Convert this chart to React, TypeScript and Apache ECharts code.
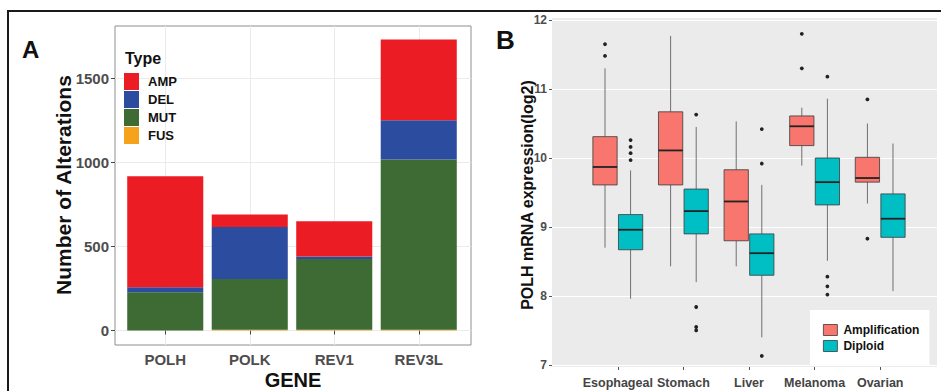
import React, { useEffect, useRef } from "react";
import * as echarts from "echarts";

// ---------- Panel A data ----------
const genes = ["POLH", "POLK", "REV1", "REV3L"];
const ampCounts = [660, 74, 209, 480];
const delCounts = [30, 309, 15, 234];
const mutCounts = [228, 302, 421, 1012];
const fusCounts = [0, 5, 5, 5];
const countTicks = [0, 500, 1000, 1500];
const countMin = -86;
const countMax = 1812;

// ---------- Panel B data ----------
const cancers = ["Esophageal", "Stomach", "Liver", "Melanoma", "Ovarian"];
// [lower whisker, Q1, median, Q3, upper whisker]
const ampBoxes = [
  [8.7, 9.61, 9.87, 10.31, 11.3],
  [8.43, 9.61, 10.11, 10.67, 11.77],
  [8.43, 8.8, 9.37, 9.83, 10.53],
  [9.89, 10.18, 10.46, 10.61, 10.73],
  [9.34, 9.65, 9.71, 10.01, 10.5],
];
const dipBoxes = [
  [7.96, 8.67, 8.96, 9.18, 9.82],
  [8.2, 8.9, 9.23, 9.55, 10.45],
  [7.4, 8.3, 8.62, 8.9, 9.61],
  [8.51, 9.32, 9.65, 10.0, 10.86],
  [8.07, 8.85, 9.12, 9.48, 10.21],
];
const ampOutliers = [
  [0, 11.65], [0, 11.48],
  [3, 11.8], [3, 11.3],
  [4, 10.85], [4, 8.83],
];
const dipOutliers = [
  [0, 10.26], [0, 10.16], [0, 10.07], [0, 9.97],
  [1, 10.63], [1, 7.84], [1, 7.55], [1, 7.5],
  [2, 10.42], [2, 9.92], [2, 7.13],
  [3, 11.18], [3, 8.28], [3, 8.14], [3, 8.02],
];
const exprTicks = [7, 8, 9, 10, 11, 12];
const exprMin = 6.97;
const exprMax = 12.03;

const FONT = "'Liberation Sans', Arial, Helvetica, sans-serif";
const AMP_COL = "#F8766D";
const DIP_COL = "#00BFC4";
const DODGE = 0.195;
const BOX_W = 0.37;

function boxRenderer(shift: number) {
  return (params: any, api: any) => {
    const idx = api.value(0);
    const band = api.size([1, 0])[0];
    const cx = api.coord([idx, api.value(3)])[0] + shift * band;
    const w = band * BOX_W;
    const yLo = api.coord([idx, api.value(1)])[1];
    const yQ1 = api.coord([idx, api.value(2)])[1];
    const yMed = api.coord([idx, api.value(3)])[1];
    const yQ3 = api.coord([idx, api.value(4)])[1];
    const yHi = api.coord([idx, api.value(5)])[1];
    const fill = api.visual("color");
    const whisker = { stroke: "#707070", lineWidth: 1 };
    return {
      type: "group",
      children: [
        { type: "line", shape: { x1: cx, y1: yHi, x2: cx, y2: yQ3 }, style: whisker },
        { type: "line", shape: { x1: cx, y1: yQ1, x2: cx, y2: yLo }, style: whisker },
        {
          type: "rect",
          shape: { x: cx - w / 2, y: yQ3, width: w, height: yQ1 - yQ3 },
          style: { fill, stroke: "#3a3a3a", lineWidth: 0.8 },
        },
        {
          type: "line",
          shape: { x1: cx - w / 2, y1: yMed, x2: cx + w / 2, y2: yMed },
          style: { stroke: "#222", lineWidth: 1.8 },
        },
      ],
    };
  };
}

function outlierRenderer(shift: number) {
  return (params: any, api: any) => {
    const idx = api.value(0);
    const band = api.size([1, 0])[0];
    const p = api.coord([idx, api.value(1)]);
    return {
      type: "circle",
      shape: { cx: p[0] + shift * band, cy: p[1], r: 1.9 },
      style: { fill: "#222" },
    };
  };
}

export default function App() {
  const ref = useRef<HTMLDivElement>(null);

  useEffect(() => {
    if (!ref.current) return;
    const chart = echarts.init(ref.current, undefined, { renderer: "svg" });

    const tickLabelA = { color: "#4D4D4D", fontWeight: "bold", fontSize: 15, fontFamily: FONT };
    const tickLabelB = { color: "#4D4D4D", fontWeight: "bold", fontSize: 12, fontFamily: FONT };

    const option: any = {
      animation: false,
      backgroundColor: "#ffffff",
      textStyle: { fontFamily: FONT },
      grid: [
        // A background / frame
        { left: 115, right: 470, top: 26, bottom: 46, show: true, backgroundColor: "#fff", borderColor: "#8f8f8f", borderWidth: 1 },
        // A bars
        { left: 123, right: 480, top: 26, bottom: 46, show: false },
        // B background
        { left: 552, right: 4, top: 18, bottom: 24, show: true, backgroundColor: "#EBEBEB", borderWidth: 0 },
        // B boxes
        { left: 585, right: 28, top: 18, bottom: 24, show: false },
      ],
      xAxis: [
        { gridIndex: 0, type: "value", min: 0, max: 1, show: false },
        {
          gridIndex: 1,
          type: "category",
          data: genes,
          axisLine: { show: false },
          axisTick: { show: true, alignWithLabel: true, length: 4, lineStyle: { color: "#444" } },
          axisLabel: { ...tickLabelA, margin: 7, interval: 0 },
          splitLine: { show: true, alignWithLabel: true, lineStyle: { color: "#EBEBEB", width: 1 } },
        },
        { gridIndex: 2, type: "value", min: 0, max: 1, show: false },
        {
          gridIndex: 3,
          type: "category",
          data: cancers,
          axisLine: { show: false },
          axisTick: { show: true, alignWithLabel: true, length: 3, lineStyle: { color: "#555" } },
          axisLabel: { color: "#444", fontWeight: "bold", fontSize: 12.5, fontFamily: FONT, margin: 9, interval: 0, hideOverlap: false },
          splitLine: { show: false },
        },
      ],
      yAxis: [
        {
          gridIndex: 0,
          type: "value",
          min: countMin,
          max: countMax,
          axisLine: { show: false },
          axisTick: { show: true, length: 4, customValues: countTicks, lineStyle: { color: "#444" } },
          axisLabel: { ...tickLabelA, margin: 6, customValues: countTicks, formatter: (v: number) => String(v) },
          splitLine: { show: true, lineStyle: { color: "#EBEBEB", width: 1 } },
        },
        { gridIndex: 1, type: "value", min: countMin, max: countMax, show: false, splitLine: { show: false } },
        {
          gridIndex: 2,
          type: "value",
          min: exprMin,
          max: exprMax,
          axisLine: { show: false },
          axisTick: { show: true, length: 3, customValues: exprTicks, lineStyle: { color: "#555" } },
          axisLabel: { ...tickLabelB, margin: 5, customValues: exprTicks, formatter: (v: number) => String(v) },
          splitLine: { show: true, lineStyle: { color: "#ffffff", width: 1.2 } },
        },
        { gridIndex: 3, type: "value", min: exprMin, max: exprMax, show: false, splitLine: { show: false } },
      ],
      legend: [
        {
          orient: "vertical",
          left: 124,
          top: 73,
          padding: 0,
          itemWidth: 15,
          itemHeight: 17,
          itemGap: 1,
          icon: "rect",
          selectedMode: false,
          data: ["AMP", "DEL", "MUT", "FUS"],
          textStyle: { fontSize: 13, fontWeight: "bold", color: "#111", fontFamily: FONT, padding: [0, 0, 0, 4] },
        },
        {
          orient: "vertical",
          left: 810,
          top: 310,
          padding: [14, 10, 13, 13],
          backgroundColor: "#ffffff",
          itemWidth: 14,
          itemHeight: 11,
          itemGap: 4,
          selectedMode: false,
          data: [
            { name: "Amplification", icon: "rect", itemStyle: { color: AMP_COL, borderColor: "#3a3a3a", borderWidth: 0.8 } },
            { name: "Diploid", icon: "rect", itemStyle: { color: DIP_COL, borderColor: "#3a3a3a", borderWidth: 0.8 } },
          ],
          textStyle: { fontSize: 12, fontWeight: "bold", color: "#111", fontFamily: FONT, padding: [0, 0, 0, 1] },
        },
      ],
      series: [
        { name: "FUS", type: "bar", xAxisIndex: 1, yAxisIndex: 1, stack: "total", barWidth: "90%", data: fusCounts, itemStyle: { color: "#F5A31A" } },
        { name: "MUT", type: "bar", xAxisIndex: 1, yAxisIndex: 1, stack: "total", barWidth: "90%", data: mutCounts, itemStyle: { color: "#3E6A33" } },
        { name: "DEL", type: "bar", xAxisIndex: 1, yAxisIndex: 1, stack: "total", barWidth: "90%", data: delCounts, itemStyle: { color: "#2B4C9F" } },
        { name: "AMP", type: "bar", xAxisIndex: 1, yAxisIndex: 1, stack: "total", barWidth: "90%", data: ampCounts, itemStyle: { color: "#EC1C24" } },
        {
          name: "Amplification",
          type: "custom",
          xAxisIndex: 3,
          yAxisIndex: 3,
          itemStyle: { color: AMP_COL },
          encode: { x: 0, y: [1, 2, 3, 4, 5] },
          data: ampBoxes.map((b, i) => [i, ...b]),
          renderItem: boxRenderer(-DODGE),
        },
        {
          name: "Diploid",
          type: "custom",
          xAxisIndex: 3,
          yAxisIndex: 3,
          itemStyle: { color: DIP_COL },
          encode: { x: 0, y: [1, 2, 3, 4, 5] },
          data: dipBoxes.map((b, i) => [i, ...b]),
          renderItem: boxRenderer(DODGE),
        },
        {
          name: "Amplification outliers",
          type: "custom",
          xAxisIndex: 3,
          yAxisIndex: 3,
          encode: { x: 0, y: 1 },
          data: ampOutliers,
          renderItem: outlierRenderer(-DODGE),
        },
        {
          name: "Diploid outliers",
          type: "custom",
          xAxisIndex: 3,
          yAxisIndex: 3,
          encode: { x: 0, y: 1 },
          data: dipOutliers,
          renderItem: outlierRenderer(DODGE),
        },
      ],
      graphic: [
        {
          type: "polyline",
          shape: { points: [[8, 391], [8, 11], [941, 11]] },
          style: { stroke: "#1a1a1a", lineWidth: 2, fill: "none" },
          silent: true,
        },
        {
          type: "text",
          x: 22,
          y: 49,
          style: { text: "A", fontSize: 24, fontWeight: "bold", fill: "#111", fontFamily: FONT, textAlign: "left", textVerticalAlign: "middle" },
        },
        {
          type: "text",
          x: 496,
          y: 40,
          style: { text: "B", fontSize: 26, fontWeight: "bold", fill: "#111", fontFamily: FONT, textAlign: "left", textVerticalAlign: "middle" },
        },
        {
          type: "text",
          x: 63,
          y: 185,
          rotation: Math.PI / 2,
          style: { text: "Number of Alterations", fontSize: 21, fontWeight: "bold", fill: "#111", fontFamily: FONT, textAlign: "center", textVerticalAlign: "middle" },
        },
        {
          type: "text",
          x: 293,
          y: 380,
          style: { text: "GENE", fontSize: 20, fontWeight: "bold", fill: "#111", fontFamily: FONT, textAlign: "center", textVerticalAlign: "middle" },
        },
        {
          type: "text",
          x: 125,
          y: 58,
          style: { text: "Type", fontSize: 16, fontWeight: "bold", fill: "#111", fontFamily: FONT, textAlign: "left", textVerticalAlign: "middle" },
        },
        {
          type: "text",
          x: 527,
          y: 195,
          rotation: Math.PI / 2,
          style: { text: "POLH mRNA expression(log2)", fontSize: 16, fontWeight: "bold", fill: "#111", fontFamily: FONT, textAlign: "center", textVerticalAlign: "middle" },
        },
      ],
    };

    chart.setOption(option);
    return () => chart.dispose();
  }, []);

  return (
    <div
      ref={ref}
      style={{ position: "absolute", left: 0, top: 0, width: 941, height: 391, background: "#fff" }}
    />
  );
}
